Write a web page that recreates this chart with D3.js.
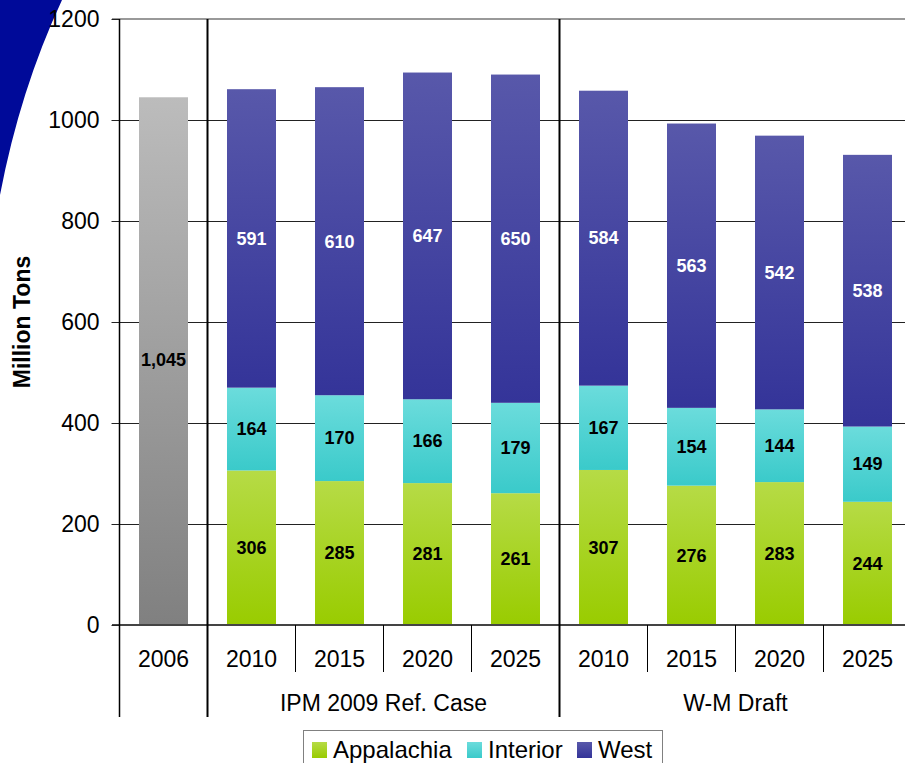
<!DOCTYPE html>
<html>
<head>
<meta charset="utf-8">
<script src="https://cdn.jsdelivr.net/npm/d3@7"></script>
<style>
  html, body { margin: 0; padding: 0; background: #fff; }
  svg { display: block; font-family: "Liberation Sans", Arial, sans-serif; }
</style>
</head>
<body>
<svg id="chart" width="905" height="763"></svg>
<script>
// ---- data ----
const categories = ["2006", "2010", "2015", "2020", "2025", "2010", "2015", "2020", "2025"];
const groups = [
  { name: "", from: 0, to: 1 },
  { name: "IPM 2009 Ref. Case", from: 1, to: 5 },
  { name: "W-M Draft", from: 5, to: 9 }
];
const seriesNames = ["Appalachia", "Interior", "West"];
const baseTotal = [1045];          // 2006 total (single bar)
const appalachia = [null, 306, 285, 281, 261, 307, 276, 283, 244];
const interior   = [null, 164, 170, 166, 179, 167, 154, 144, 149];
const west       = [null, 591, 610, 647, 650, 584, 563, 542, 538];
const yTicks = [0, 200, 400, 600, 800, 1000, 1200];

// ---- layout ----
const svg = d3.select("#chart");
const x0 = 119.5, step = 88;
const x = d3.scaleBand().domain(d3.range(categories.length))
  .range([x0, x0 + step * categories.length]).paddingInner(0).paddingOuter(0);
const y = d3.scaleLinear().domain([0, 1200]).range([625, 19]);
const barW = 49;

const colors = {
  Appalachia: ["#B6DB46", "#99CC00"],
  Interior: ["#6BDCDC", "#3ACACA"],
  West: ["#5858AA", "#343499"],
  base: ["#BCBCBC", "#808080"]
};
const defs = svg.append("defs");
Object.entries(colors).forEach(([k, c]) => {
  const g = defs.append("linearGradient").attr("id", "g-" + k)
    .attr("x1", 0).attr("y1", 0).attr("x2", 0).attr("y2", 1);
  g.append("stop").attr("offset", "0%").attr("stop-color", c[0]);
  g.append("stop").attr("offset", "100%").attr("stop-color", c[1]);
});

// decorative slide swoosh
svg.append("path").attr("d", "M0,0 L62,0 Q20,90 0,195 Z").attr("fill", "#000A99");

// gridlines
svg.append("g").selectAll("line").data(yTicks.filter(d => d > 0 && d < 1200)).join("line")
  .attr("x1", 112).attr("x2", 905).attr("y1", d => y(d) + 0.5).attr("y2", d => y(d) + 0.5)
  .attr("stroke", "#222").attr("stroke-width", 1);
// top border
svg.append("line").attr("x1", 112).attr("x2", 905).attr("y1", y(1200)).attr("y2", y(1200))
  .attr("stroke", "#999").attr("stroke-width", 2);

// stacked data
const rows = categories.map((c, i) => ({ i, Appalachia: appalachia[i] || 0, Interior: interior[i] || 0, West: west[i] || 0 }));
const stack = d3.stack().keys(seriesNames)(rows.filter(r => r.i > 0));

// 2006 bar
svg.append("rect")
  .attr("x", x(0) + (step - barW) / 2).attr("width", barW)
  .attr("y", y(baseTotal[0])).attr("height", y(0) - y(baseTotal[0]))
  .attr("fill", "url(#g-base)");
svg.append("text").attr("x", x(0) + step / 2).attr("y", y(baseTotal[0] / 2) - 1)
  .attr("dy", "0.35em").attr("text-anchor", "middle")
  .attr("font-size", 18).attr("font-weight", "bold").attr("fill", "#000")
  .text(d3.format(",")(baseTotal[0]));

// stacked bars
stack.forEach(s => {
  const g = svg.append("g");
  g.selectAll("rect").data(s).join("rect")
    .attr("x", d => x(d.data.i) + (step - barW) / 2).attr("width", barW)
    .attr("y", d => y(d[1])).attr("height", d => y(d[0]) - y(d[1]))
    .attr("fill", "url(#g-" + s.key + ")");
  g.selectAll("text").data(s).join("text")
    .attr("x", d => x(d.data.i) + step / 2).attr("y", d => y((d[0] + d[1]) / 2))
    .attr("dy", "0.35em").attr("text-anchor", "middle")
    .attr("font-size", 18).attr("font-weight", "bold")
    .attr("fill", s.key === "West" ? "#fff" : "#000")
    .text(d => d.data[s.key]);
});

// baseline (0)
svg.append("line").attr("x1", 112).attr("x2", 905).attr("y1", y(0)).attr("y2", y(0))
  .attr("stroke", "#444").attr("stroke-width", 2);

// y axis
const yAxis = d3.axisLeft(y).tickValues(yTicks).tickFormat(d3.format("d")).tickSize(8).tickPadding(12);
const ya = svg.append("g").attr("transform", `translate(${x0},0)`).call(yAxis);
ya.select(".domain").remove();
ya.selectAll(".tick line").attr("stroke", "#222");
ya.selectAll(".tick text").attr("font-size", 23).attr("fill", "#000")
  .attr("font-family", "Liberation Sans, Arial, sans-serif");
svg.append("line").attr("x1", x0).attr("x2", x0).attr("y1", y(1200)).attr("y2", 717)
  .attr("stroke", "#000").attr("stroke-width", 1.5);

// group separators
[1, 5].forEach(i => {
  svg.append("line").attr("x1", x(i)).attr("x2", x(i)).attr("y1", y(1200)).attr("y2", 717)
    .attr("stroke", "#000").attr("stroke-width", 2);
});
// category ticks below axis
[2, 3, 4, 6, 7, 8].forEach(i => {
  svg.append("line").attr("x1", x(i)).attr("x2", x(i)).attr("y1", y(0)).attr("y2", 672)
    .attr("stroke", "#000").attr("stroke-width", 1);
});

// category labels
svg.append("g").selectAll("text").data(categories).join("text")
  .attr("x", (d, i) => x(i) + step / 2).attr("y", 667)
  .attr("text-anchor", "middle").attr("font-size", 23).attr("fill", "#000")
  .text(d => d);
// group labels
svg.append("g").selectAll("text").data(groups.filter(g => g.name)).join("text")
  .attr("x", g => (x(g.from) + x(g.to - 1) + step) / 2).attr("y", 711)
  .attr("text-anchor", "middle").attr("font-size", 23).attr("fill", "#000")
  .text(g => g.name);

// y title
svg.append("text").attr("transform", "translate(30,322) rotate(-90)")
  .attr("text-anchor", "middle").attr("font-size", 23).attr("font-weight", "bold")
  .text("Million Tons");

// legend
const lg = svg.append("g");
lg.append("rect").attr("x", 303.5).attr("y", 730.5).attr("width", 359).attr("height", 45)
  .attr("fill", "#fff").attr("stroke", "#808080").attr("stroke-width", 1);
const legendX = [312, 467, 577];
seriesNames.forEach((n, i) => {
  lg.append("rect").attr("x", legendX[i]).attr("y", 742).attr("width", 15).attr("height", 16)
    .attr("fill", "url(#g-" + n + ")");
  lg.append("text").attr("x", legendX[i] + 21).attr("y", 758)
    .attr("font-size", 24).attr("fill", "#000").text(n);
});
</script>
</body>
</html>
